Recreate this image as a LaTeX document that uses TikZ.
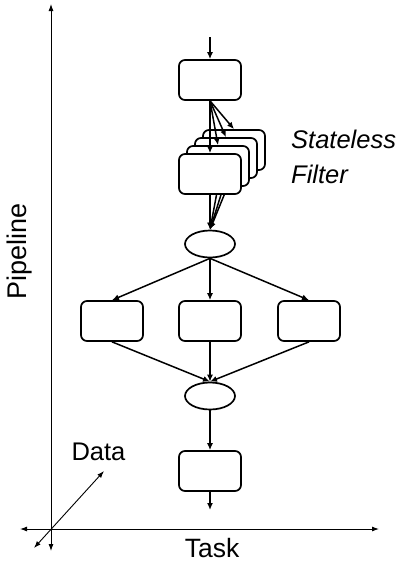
\documentclass[tikz,border=0pt]{standalone}
\usepackage{fontspec}
\newfontfamily\arial{Liberation Sans}
\usetikzlibrary{shapes.geometric,backgrounds,arrows.meta}

\tikzset{
  task/.style={draw, line width=1.7pt, rounded corners=6pt, fill=white,
    minimum width=62pt, minimum height=40pt, inner sep=0pt},
  joinnode/.style={draw, ellipse, line width=1.7pt, fill=white,
    minimum width=50pt, minimum height=27pt, inner sep=0pt},
  flow/.style={line width=1.5pt, -{Latex[length=7pt,width=6pt]}},
  axis/.style={line width=0.9pt, {Latex[length=7pt,width=5pt]}-{Latex[length=7pt,width=5pt]}},
  lbl/.style={font=\arial\fontsize{25.5}{30}\selectfont, inner sep=0pt}
}

\begin{document}
\begin{tikzpicture}[x=1pt,y=-1pt]
\useasboundingbox (0,0) rectangle (403,563);

% axes
\coordinate (ptop) at (51,4);
\coordinate (pbot) at (51,551);
\coordinate (tleft) at (20,529);
\coordinate (tright) at (379,529);
\coordinate (dlow) at (34,548);
\coordinate (dhigh) at (104,471);
\draw [axis] (pbot) -- (ptop);
\draw [axis] (tleft) -- (tright);
\draw [axis] (dlow) -- (dhigh);

\node [lbl, font=\arial\fontsize{27}{32}\selectfont, rotate=90] (pipeline) at (20,251) {Pipeline};
\node [lbl, anchor=base] (data) at (98.5,460) {Data};
\node [lbl, font=\arial\fontsize{26.5}{32}\selectfont, anchor=base] (task) at (212,557) {Task};

% source
\coordinate (in) at (210,37);
\node [task] (src) at (210,80) {};
\draw [flow] (in) -- (src);

% stateless filter copies, back to front
\foreach \i/\d in {4/24,3/16,2/8,1/0}
  \node [task] (f\i) at (210+\d,174-\d) {};
\foreach \i in {1,...,4}
  \draw [flow] (src.south) -- (f\i.north);

\node [lbl, font=\arial\itshape\fontsize{25.5}{30}\selectfont, anchor=base west] (stateless) at (291,148) {Stateless};
\node [lbl, font=\arial\itshape\fontsize{25.5}{30}\selectfont, anchor=base west] (filter) at (291,183) {Filter};

% split
\node [joinnode] (split) at (210,244) {};
\begin{scope}[on background layer]
\foreach \i in {1,...,4}
  \draw [flow] (f\i.south) -- (split.north);
\end{scope}

\node [task] (left) at (112,321) {};
\node [task] (mid) at (210,321) {};
\node [task] (right) at (309,321) {};
\foreach \n in {left,mid,right}
  \draw [flow] (split.south) -- (\n.north);

% merge
\node [joinnode] (merge) at (210,396) {};
\foreach \n in {left,mid,right}
  \draw [flow] (\n.south) -- (merge.north);

% sink
\node [task] (sink) at (210,471) {};
\coordinate (out) at (210,510);
\draw [flow] (merge) -- (sink);
\draw [flow] (sink) -- (out);

\end{tikzpicture}
\end{document}
